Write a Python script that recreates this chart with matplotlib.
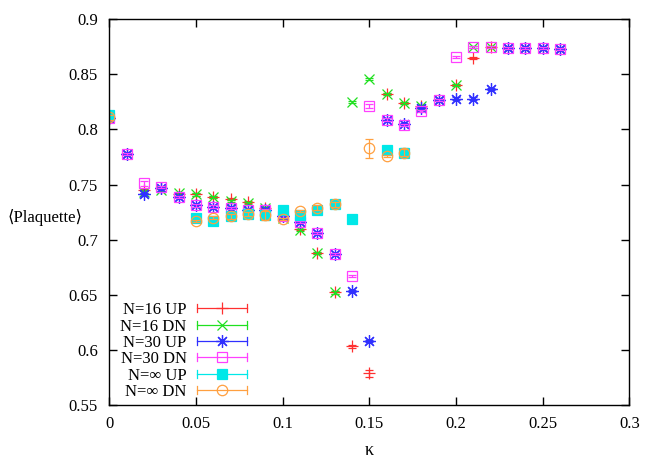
import matplotlib
matplotlib.use("Agg")
import matplotlib.pyplot as plt
from matplotlib.lines import Line2D
from matplotlib.legend_handler import HandlerBase
from matplotlib.ticker import FormatStrFormatter, MultipleLocator

plt.rcParams['font.family'] = ['Liberation Serif', 'DejaVu Serif']

kappa = [0.00, 0.01, 0.02, 0.03, 0.04, 0.05, 0.06, 0.07, 0.08, 0.09,
         0.10, 0.11, 0.12, 0.13, 0.14, 0.15, 0.16, 0.17, 0.18, 0.19,
         0.20, 0.21, 0.22, 0.23, 0.24, 0.25, 0.26]

n16_up = [0.810, 0.778, 0.745, 0.747, 0.741, 0.741, 0.739, 0.737, 0.734, 0.729,
          0.721, 0.710, 0.688, 0.652, 0.603, 0.5785, 0.832, 0.824, 0.821, 0.827,
          0.840, 0.865, 0.875, 0.874, 0.874, 0.874, 0.873]
n16_dn = [0.810, 0.778, 0.743, 0.745, 0.742, 0.741, 0.739, 0.735, 0.733, 0.729,
          0.720, 0.709, 0.688, 0.652, 0.825, 0.846, 0.832, 0.824, 0.821, 0.827,
          0.840, 0.875, 0.875, 0.874, 0.874, 0.874, 0.873]
n30_up = [0.810, 0.778, 0.741, 0.747, 0.739, 0.731, 0.730, 0.729, 0.727, 0.727,
          0.721, 0.716, 0.706, 0.687, 0.653, 0.608, 0.809, 0.805, 0.819, 0.827,
          0.828, 0.828, 0.837, 0.874, 0.874, 0.874, 0.873]
n30_dn = [0.810, 0.778, 0.751, 0.748, 0.739, 0.731, 0.730, 0.729, 0.727, 0.727,
          0.721, 0.716, 0.706, 0.687, 0.667, 0.821, 0.809, 0.804, 0.817, 0.827,
          0.866, 0.875, 0.875, 0.874, 0.874, 0.874, 0.873]
n16_up_err = [0.001] * 15 + [0.003] + [0.001] * 11
n16_dn_err = [0.001] * 27
n30_up_err = [0.001] * 27
n30_dn_err = [0.001] * 2 + [0.002] + [0.001] * 12 + [0.002] + [0.001] * 11

kappa_inf_up = [0.00, 0.05, 0.06, 0.07, 0.08, 0.09, 0.10, 0.11, 0.12, 0.13, 0.14, 0.16, 0.17]
inf_up = [0.813, 0.720, 0.717, 0.721, 0.723, 0.722, 0.727, 0.722, 0.727, 0.732, 0.719, 0.781, 0.779]
inf_up_err = [0.002, 0.002, 0.002, 0.002, 0.002, 0.003, 0.002, 0.002, 0.002, 0.002, 0.001, 0.002, 0.004]

kappa_inf_dn = [0.00, 0.05, 0.06, 0.07, 0.08, 0.09, 0.10, 0.11, 0.12, 0.13, 0.15, 0.16, 0.17]
inf_dn = [0.811, 0.717, 0.720, 0.721, 0.723, 0.722, 0.719, 0.726, 0.729, 0.732, 0.783, 0.776, 0.779]
inf_dn_err = [0.002, 0.001, 0.001, 0.002, 0.002, 0.004, 0.001, 0.001, 0.002, 0.002, 0.0085, 0.001, 0.003]

labels = ['N=16 UP', 'N=16 DN', 'N=30 UP', 'N=30 DN', 'N=\u221e UP', 'N=\u221e DN']
colors = ['#ff3030', '#20e020', '#3030ff', '#ff40ff', '#00e8e8', '#ffa040']


class GnuplotHandler(HandlerBase):
    # legend sample like gnuplot: horizontal bar with end caps and the point in the middle
    def create_artists(self, legend, orig, xdescent, ydescent, width, height, fontsize, trans):
        x0 = -xdescent
        x1 = x0 + width
        y = -ydescent + height / 2
        c = height * 0.35
        col = orig.get_color()
        bar = Line2D([x0, x1], [y, y], color=col, lw=0.9)
        cap0 = Line2D([x0, x0], [y - c, y + c], color=col, lw=0.9)
        cap1 = Line2D([x1, x1], [y - c, y + c], color=col, lw=0.9)
        pt = Line2D([(x0 + x1) / 2], [y], marker=orig.get_marker(), ms=orig.get_markersize(),
                    mfc=orig.get_markerfacecolor(), mec=orig.get_markeredgecolor(),
                    mew=orig.get_markeredgewidth(), ls='none')
        arts = [bar, cap0, cap1, pt]
        for a in arts:
            a.set_transform(trans)
        return arts


fig = plt.figure(figsize=(6.54, 4.58), dpi=100)
ax = fig.add_axes([0.167, 0.116, 0.7955, 0.842])

star = (8, 2, 0)
series = [
    (kappa, n16_up, n16_up_err, '+', 'none', 8),
    (kappa, n16_dn, n16_dn_err, 'x', 'none', 7),
    (kappa, n30_up, n30_up_err, star, 'none', 9),
    (kappa, n30_dn, n30_dn_err, 's', 'none', 7),
    (kappa_inf_up, inf_up, inf_up_err, 's', 'fill', 7),
    (kappa_inf_dn, inf_dn, inf_dn_err, 'o', 'none', 7.5),
]

handles = []
for (xs, ys, es, mk, fill, ms), col, lab in zip(series, colors, labels):
    mfc = col if fill == 'fill' else 'none'
    ax.errorbar(xs, ys, yerr=es, fmt='none', ecolor=col, elinewidth=0.9, capsize=3, capthick=0.9)
    ax.plot(xs, ys, ls='none', marker=mk, ms=ms, mfc=mfc, mec=col, mew=0.9)
    handles.append(Line2D([], [], color=col, marker=mk, ms=ms, mfc=mfc, mec=col, mew=0.9))

ax.set_xlim(0, 0.3)
ax.set_ylim(0.55, 0.9)
ax.xaxis.set_major_locator(MultipleLocator(0.05))
ax.yaxis.set_major_locator(MultipleLocator(0.05))
ax.xaxis.set_major_formatter(FormatStrFormatter('%g'))
ax.yaxis.set_major_formatter(FormatStrFormatter('%g'))
ax.tick_params(direction='in', length=6, width=1, top=True, right=True, labelsize=12, pad=8)
for s in ax.spines.values():
    s.set_linewidth(1)

ax.set_xlabel('\u03ba', fontsize=13)
ax.xaxis.set_label_coords(0.5, -0.095)
ax.set_ylabel('\u27e8Plaquette\u27e9', fontsize=12, rotation=0, ha='center', va='center')
ax.yaxis.set_label_coords(-0.124, 0.487)

leg = ax.legend(handles, labels, handler_map={Line2D: GnuplotHandler()},
                loc='lower left', bbox_to_anchor=(0.002, -0.013), frameon=False,
                markerfirst=False, fontsize=12, handlelength=3.0, handletextpad=0.6,
                labelspacing=0.02, borderaxespad=0.2)

fig.savefig('out.png', dpi=100)
